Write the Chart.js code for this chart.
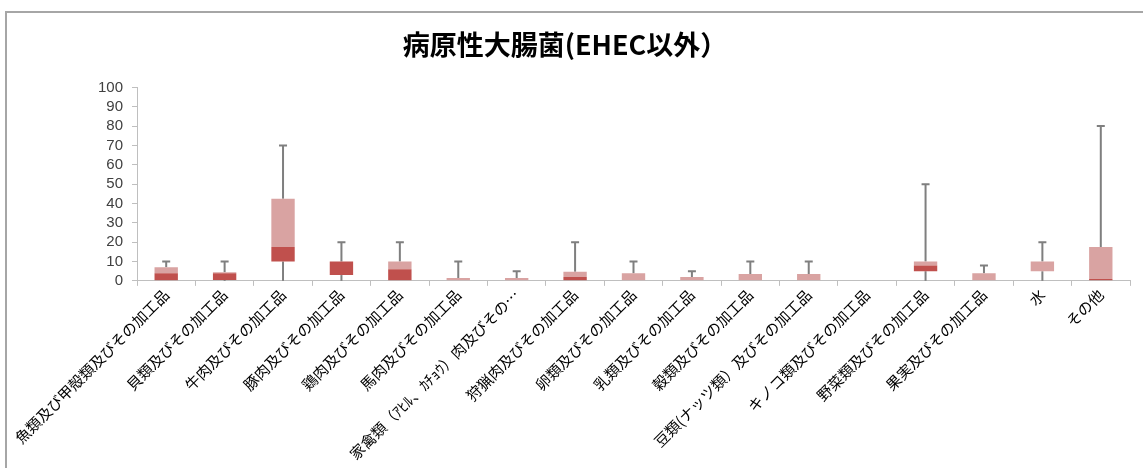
<!DOCTYPE html>
<html>
<head>
<meta charset="utf-8">
<script src="https://cdn.jsdelivr.net/npm/chart.js@4"></script>
<style>
  html, body { margin: 0; padding: 0; background: #fff; }
  #wrap { position: relative; width: 1143px; height: 468px; }
  #frame { position: absolute; left: 5px; top: 11px; width: 1160px; height: 480px;
           border-top: 2px solid #a6a6a6; border-left: 2px solid #a6a6a6; }
  canvas { position: absolute; left: 0; top: 0; }
</style>
</head>
<body>
<div id="wrap">
  <div id="frame"></div>
  <canvas id="grafico" width="1143" height="468"></canvas>
</div>
<script>
// --- dados ---
const titulo = "病原性大腸菌(EHEC以外）";
const categorias = [
  "魚類及び甲殻類及びその加工品", "貝類及びその加工品", "牛肉及びその加工品",
  "豚肉及びその加工品", "鶏肉及びその加工品", "馬肉及びその加工品",
  "家禽類（ｱﾋﾙ、ｶﾁｮｳ）肉及びその…", "狩猟肉及びその加工品", "卵類及びその加工品",
  "乳類及びその加工品", "穀類及びその加工品", "豆類(ナッツ類）及びその加工品",
  "キノコ類及びその加工品", "野菜類及びその加工品", "果実及びその加工品", "水", "その他"
];
const minimo  = [0, 0,   0,    0,  0,  0,   0,   0,   0, 0, 0,   0,   0, 0,  0, 0,  0];
const q1      = [0, 0.5, 10,   3,  0,  0,   0,   0,   0, 0, 0,   0,   0, 5,  0, 5,  0];
const mediana = [4, 4,   17.5, 10, 6,  0,   0,   2,   0, 0, 0,   0,   0, 8,  0, 5,  1];
const q3      = [7, 4.5, 42.5, 10, 10, 1.5, 1.5, 4.7, 4, 2, 3.6, 3.6, 0, 10, 4, 10, 17.5];
const maximo  = [10, 10, 70,   20, 20, 10,  5,   20,  10, 5, 10, 10,  0, 50, 8, 20, 80];
const ticksY  = [0, 10, 20, 30, 40, 50, 60, 70, 80, 90, 100];

// --- bigodes (whiskers) desenhados pelas escalas do gráfico ---
const bigodes = {
  id: 'bigodes',
  beforeDatasetsDraw(chart) {
    const { ctx, scales: { x, y } } = chart;
    ctx.save();
    ctx.strokeStyle = '#7f7f7f';
    ctx.lineWidth = 2;
    categorias.forEach((c, i) => {
      const px = x.getPixelForValue(i);
      if (maximo[i] > q3[i]) {
        ctx.beginPath();
        ctx.moveTo(px, y.getPixelForValue(q3[i]));
        ctx.lineTo(px, y.getPixelForValue(maximo[i]));
        ctx.moveTo(px - 4, y.getPixelForValue(maximo[i]));
        ctx.lineTo(px + 4, y.getPixelForValue(maximo[i]));
        ctx.stroke();
      }
      if (q1[i] > minimo[i]) {
        ctx.beginPath();
        ctx.moveTo(px, y.getPixelForValue(q1[i]));
        ctx.lineTo(px, y.getPixelForValue(minimo[i]));
        ctx.stroke();
      }
    });
    ctx.restore();
  }
};

const ctx = document.getElementById('grafico').getContext('2d');
new Chart(ctx, {
  type: 'bar',
  data: {
    labels: categorias,
    datasets: [{
      label: 'Q1-中央値',
      data: q1.map((v, i) => [v, mediana[i]]),
      backgroundColor: '#c0504d',
      grouped: false,
      barPercentage: 0.4,
      categoryPercentage: 1
    }, {
      label: '中央値-Q3',
      data: mediana.map((v, i) => [v, q3[i]]),
      backgroundColor: '#d9a3a2',
      grouped: false,
      barPercentage: 0.4,
      categoryPercentage: 1
    }]
  },
  options: {
    responsive: false,
    animation: false,
    layout: { padding: { left: 0, right: 13, top: 0, bottom: 5 } },
    plugins: {
      legend: { display: false },
      tooltip: { enabled: false },
      title: {
        display: true,
        text: titulo,
        color: '#000',
        font: { family: "'Noto Sans CJK JP'", size: 27, weight: 'bold' },
        padding: { top: 29, bottom: 26 }
      }
    },
    scales: {
      x: {
        grid: { display: true, drawOnChartArea: false, drawTicks: true, tickLength: 5, color: '#bfbfbf', offset: true },
        border: { color: '#bfbfbf', width: 1 },
        ticks: {
          autoSkip: false, minRotation: 45, maxRotation: 45, padding: 0,
          color: '#000',
          font: { family: "'Noto Sans CJK JP'", size: 15 }
        }
      },
      y: {
        min: 0, max: 100,
        afterBuildTicks: (axis) => { axis.ticks = ticksY.map(v => ({ value: v })); },
        afterFit: (axis) => { axis.width = 137; },
        grid: { display: true, drawOnChartArea: false, drawTicks: true, tickLength: 5, color: '#bfbfbf' },
        border: { color: '#bfbfbf', width: 1 },
        ticks: {
          autoSkip: false,
          color: '#404040', padding: 9,
          font: { family: "'Liberation Sans'", size: 15 }
        }
      }
    }
  },
  plugins: [bigodes]
});
</script>
</body>
</html>
